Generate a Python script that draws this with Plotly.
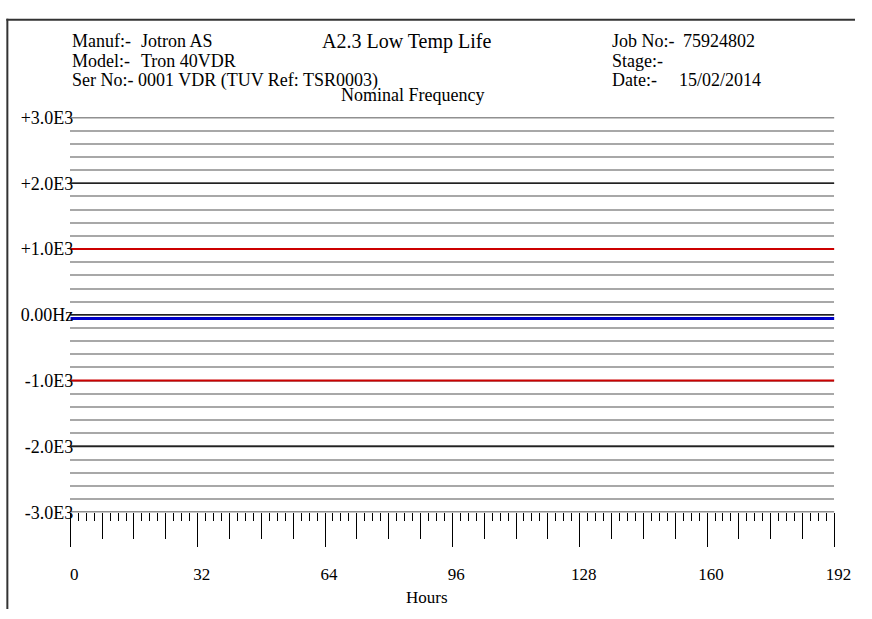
import plotly.graph_objects as go

# ---- data ----
hours = [0, 24, 48, 72, 96, 120, 144, 168, 192]
freq_offset = [-55, -55, -55, -55, -55, -55, -55, -55, -55]

y_tick_vals = [3000, 2000, 1000, 0, -1000, -2000, -3000]
y_tick_text = ["+3.0E3", "+2.0E3", "+1.0E3", "0.00Hz", "-1.0E3", "-2.0E3", "-3.0E3"]
y_line_colors = ["#222222", "#222222", "#cc0000", "#222222", "#cc0000", "#222222", "#222222"]

x_tick_vals = [0, 32, 64, 96, 128, 160, 192]
x_mid_ticks = [0, 8, 16, 24, 32, 40, 48, 56, 64, 72, 80, 88, 96, 104, 112, 120,
               128, 136, 144, 152, 160, 168, 176, 184, 192]

header_left = [("Manuf:-", "Jotron AS"), ("Model:-", "Tron 40VDR"),
               ("Ser No:-", "0001 VDR (TUV Ref: TSR0003)")]
header_right = [("Job No:-", "75924802"), ("Stage:-", ""), ("Date:-", "15/02/2014")]
title_text = "A2.3 Low Temp Life"
subtitle_text = "Nominal Frequency"
x_title = "Hours"

W, H = 872, 619
FONT = "Liberation Serif"

def px(x):
    return x / W

def py(y):
    return 1 - y / H

fig = go.Figure()

# major horizontal reference lines
for lv, col in zip(y_tick_vals, y_line_colors):
    fig.add_shape(type="line", xref="x", yref="y", x0=x_tick_vals[0], x1=x_tick_vals[-1],
                  y0=lv, y1=lv, line=dict(color=col, width=1.6 if col != "#cc0000" else 2),
                  layer="between")

fig.add_trace(go.Scatter(x=hours, y=freq_offset, mode="lines",
                         line=dict(color="#0000c8", width=3),
                         showlegend=False, hoverinfo="skip", cliponaxis=False))
# invisible trace to activate the secondary tick axis
fig.add_trace(go.Scatter(x=[hours[0], hours[-1]], y=[freq_offset[0], freq_offset[-1]],
                         xaxis="x2", mode="lines", line=dict(width=0, color="rgba(0,0,0,0)"),
                         showlegend=False, hoverinfo="skip"))

annotations = []
rows_y = [32.5, 52.5, 72.5]
for (lab, val), yy in zip(header_left, rows_y):
    annotations.append(dict(x=px(71), y=py(yy), text=lab, xanchor="left", yanchor="middle"))
    annotations.append(dict(x=px(139 if lab.startswith("Ser") else 142), y=py(yy), text=val,
                            xanchor="left", yanchor="middle"))
for (lab, val), yy in zip(header_right, rows_y):
    annotations.append(dict(x=px(622), y=py(yy), text=lab, xanchor="left", yanchor="middle"))
    if val:
        annotations.append(dict(x=px(695 if lab.startswith("Job") else 690), y=py(yy), text=val,
                                xanchor="left", yanchor="middle"))
annotations.append(dict(x=px(415), y=py(33), text=title_text, xanchor="center",
                        yanchor="middle", font=dict(size=20)))
annotations.append(dict(x=px(421), y=py(88), text=subtitle_text, xanchor="center",
                        yanchor="middle"))
annotations.append(dict(x=px(435), y=py(607), text=x_title, xanchor="center",
                        yanchor="middle", font=dict(size=17)))
for a in annotations:
    a.setdefault("font", dict(size=18))
    a["font"] = dict(family=FONT, color="black", **a["font"])
    a["xref"] = "paper"
    a["yref"] = "paper"
    a["showarrow"] = False

# frame
fig.add_shape(type="line", xref="paper", yref="paper", x0=px(7.5), x1=px(7.5), y0=0, y1=py(9),
              line=dict(color="#333333", width=2))
fig.add_shape(type="line", xref="paper", yref="paper", x0=px(6.5), x1=1, y0=py(10), y1=py(10),
              line=dict(color="#333333", width=2))

fig.update_layout(
    width=W, height=H, autosize=False,
    margin=dict(l=0, r=0, t=0, b=0),
    paper_bgcolor="white", plot_bgcolor="white",
    font=dict(family=FONT, color="black"),
    annotations=annotations,
    showlegend=False,
    xaxis=dict(domain=[px(71.7), px(851)], range=[0, 192],
               tickvals=x_tick_vals, ticktext=[str(v) for v in x_tick_vals],
               ticks="outside", ticklen=34, tickwidth=1.3, tickcolor="black",
               minor=dict(dtick=2, tick0=0, ticks="outside", ticklen=8, tickwidth=1.3,
                          tickcolor="black", showgrid=False),
               showgrid=False, zeroline=False, showline=False,
               tickfont=dict(family=FONT, size=17, color="black"),
               ticklabelstandoff=12, ticklabelshift=4),
    xaxis2=dict(overlaying="x", anchor="y", side="bottom", range=[0, 192],
                tickvals=x_mid_ticks, ticks="outside", ticklen=26, tickwidth=1.3,
                tickcolor="black", showticklabels=False, showgrid=False,
                zeroline=False, showline=False),
    yaxis=dict(domain=[py(519), py(111)], range=[-3000, 3000],
               tickvals=y_tick_vals, ticktext=y_tick_text, ticks="",
               showgrid=False,
               minor=dict(dtick=200, tick0=0, showgrid=True, gridcolor="#a8a8a8", gridwidth=2),
               zeroline=False, showline=False,
               tickfont=dict(family=FONT, size=18, color="black"),
               ticklabelstandoff=-4),
)

fig.write_html("out.html", config={"displayModeBar": False},
               post_script="document.body.style.margin='0';document.body.style.padding='0';"
                           "document.body.style.overflow='hidden';")
